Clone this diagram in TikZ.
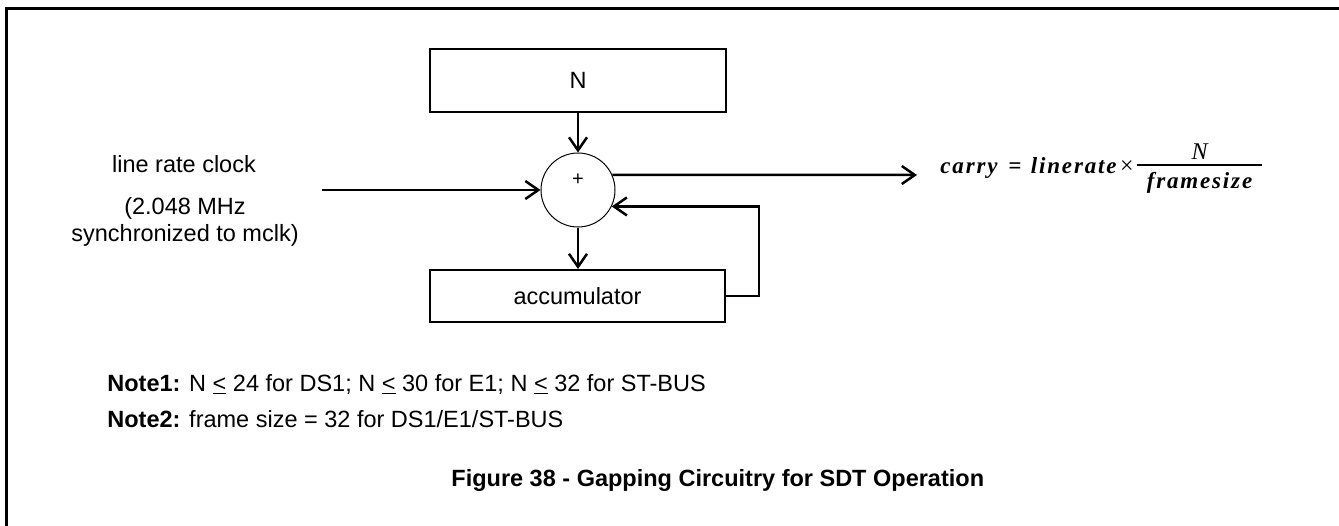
\documentclass[tikz,border=0pt]{standalone}
\usepackage{fontspec}
\setmainfont{Liberation Sans}
\newfontfamily\formfont[LetterSpace=8]{Liberation Serif}
\usetikzlibrary{arrows.meta}
\begin{document}
\begin{tikzpicture}[x=0.5pt,y=-0.5pt,
  box/.style={draw,line width=1pt,inner sep=0pt,font=\fontsize{11.75}{14}\selectfont},
  arr/.style={line width=1.25pt,-{Straight Barb[length=6.5pt,width=9pt,line width=1.25pt]}},
  lbl/.style={font=\fontsize{11.75}{14}\selectfont,inner sep=0pt},
  captxt/.style={font=\fontsize{11.75}{14}\selectfont\bfseries,inner sep=0pt},
  frm/.style={font=\formfont\bfseries\itshape\fontsize{11.5}{14}\selectfont,inner sep=0pt}]
\useasboundingbox (0,0) rectangle (1339,525);
% frame
\draw[line width=1.65pt] (6.7,530) -- (6.7,8.3) -- (1345,8.3);
% blocks
\node[box,minimum width=148pt,minimum height=31.5pt] (nbox) at (578,80.5) {N};
\node[circle,draw,line width=0.5pt,minimum size=37pt,inner sep=0pt] (circ) at (578,190) {};
\node[lbl,font=\fontsize{10}{12}\selectfont] (plus) at (578,180) {+};
\node[box,minimum width=147.5pt,minimum height=26pt] (acc) at (577.5,296) {accumulator};
% input labels
\node[lbl,anchor=base] (lrc) at (184,172) {line rate clock};
\node[lbl,anchor=base] (mhz) at (185,214) {(2.048 MHz};
\node[lbl,anchor=base] (sync) at (185,241) {synchronized to mclk)};
% coordinates
\coordinate (inStart) at (322,190);
\coordinate (outEnd) at (917,175);
\coordinate (fb) at (759,296);
% connectors
\draw[arr] (circ.north |- nbox.south) -- (circ.north);
\draw[arr] (inStart) -- (circ.west);
\draw[arr] (circ.24) -- (outEnd);
\draw[arr] (circ.south) -- (circ.south |- acc.north);
\draw[arr] (acc.east) -- (fb) -- (fb |- circ.-26) -- (circ.-26);
% formula
\node[frm,anchor=base west] (fcarry) at (940,173) {carry};
\node[frm,anchor=base] (feq) at (1015,173) {=};
\node[frm,anchor=base east] (flin) at (1117,173) {linerate};
\node[inner sep=0pt,font=\fontsize{12}{14}\selectfont\formfont,anchor=base] (ftimes) at (1127,173) {×};
\coordinate (barL) at (1137,165);
\coordinate (barR) at (1262,165);
\draw[line width=0.7pt] (barL) -- (barR);
\node[inner sep=0pt,font=\formfont\itshape\fontsize{12}{14}\selectfont,anchor=base] (fnum) at (1199.5,159) {N};
\node[frm,anchor=base] (fden) at (1199.5,188) {framesize};
% notes
\node[lbl,anchor=base west] (note1) at (107,391) {\textbf{Note1:} N \underline{<} 24 for DS1; N \underline{<} 30 for E1; N \underline{<} 32 for ST-BUS};
\node[lbl,anchor=base west] (note2) at (107,427) {\textbf{Note2:} frame size = 32 for DS1/E1/ST-BUS};
\node[captxt,anchor=base west] (caption) at (451,486) {Figure 38 - Gapping Circuitry for SDT Operation};
\end{tikzpicture}
\end{document}
